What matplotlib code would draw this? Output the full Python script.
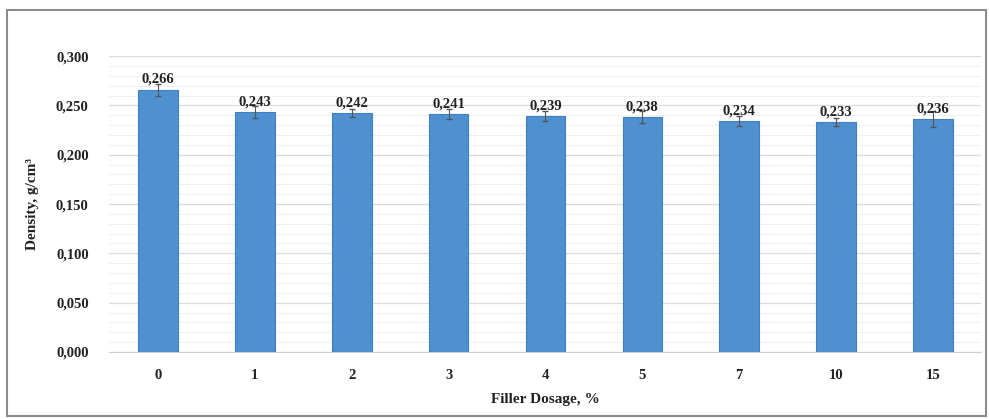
import matplotlib
matplotlib.use("Agg")
import matplotlib.pyplot as plt
from matplotlib.patches import Rectangle
from matplotlib.ticker import MultipleLocator, FuncFormatter

categories = ["0", "1", "2", "3", "4", "5", "7", "10", "15"]
density = [0.266, 0.243, 0.242, 0.241, 0.239, 0.238, 0.234, 0.233, 0.236]
errors = [0.006, 0.006, 0.004, 0.005, 0.005, 0.006, 0.005, 0.004, 0.008]
value_labels = ["0,266", "0,243", "0,242", "0,241", "0,239", "0,238", "0,234", "0,233", "0,236"]

plt.rcParams['font.family'] = ['Liberation Serif', 'DejaVu Serif']

fig = plt.figure(figsize=(9.89, 4.19), dpi=100)
fig.patches.append(Rectangle((0.007, 0.008), 0.99, 0.968, transform=fig.transFigure,
                             fill=False, edgecolor='#8c8c8c', linewidth=1.5))
ax = fig.add_axes([0.1107, 0.160, 0.8817, 0.706])

x = list(range(len(categories)))
ax.bar(x, density, width=0.41, color='#4f90d0', edgecolor='#3f7fbf', linewidth=0.8, zorder=3)
ax.errorbar(x, density, yerr=errors, fmt='none', ecolor='#555555', elinewidth=0.8, capsize=2, zorder=4)
for xi, v, lab in zip(x, density, value_labels):
    ax.text(xi, v + 0.004, lab, ha='center', va='bottom', fontsize=10.5, fontweight='bold', color='#222222', zorder=5)

ax.set_xlim(-0.5, len(categories) - 0.5)
ax.set_ylim(0, 0.3)
ax.yaxis.set_major_locator(MultipleLocator(0.05))
ax.yaxis.set_minor_locator(MultipleLocator(0.01))
ax.yaxis.set_major_formatter(FuncFormatter(lambda v, p: f"{v:.3f}".replace('.', ',')))
ax.set_xticks(x)
ax.set_xticklabels(categories)
ax.grid(axis='y', which='major', color='#dcdcdc', linewidth=0.9, zorder=0)
ax.grid(axis='y', which='minor', color='#f0f0f0', linewidth=0.7, zorder=0)
ax.set_axisbelow(True)
for s in ['top', 'right', 'left']:
    ax.spines[s].set_visible(False)
ax.spines['bottom'].set_color('#d0d0d0')
ax.tick_params(axis='both', which='both', length=0, labelsize=10.5, colors='#222222', pad=12)
for lbl in ax.get_xticklabels() + ax.get_yticklabels():
    lbl.set_fontweight('bold')
ax.tick_params(axis='y', pad=15)
ax.set_xlabel("Filler Dosage, %", fontsize=11, fontweight='bold', color='#222222', labelpad=8)
ax.set_ylabel("Density, g/cm³", fontsize=11, fontweight='bold', color='#222222', labelpad=12)

fig.savefig("out.png", dpi=100)
